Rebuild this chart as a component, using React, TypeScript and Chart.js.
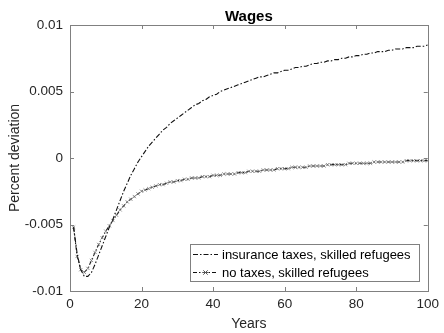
import React, { useEffect, useRef } from "react";
import { Chart, registerables } from "chart.js";

Chart.register(...registerables);

const years: number[] = Array.from({ length: 100 }, (_, i) => i + 1);

const insuranceTaxes: number[] = [
  -0.0052, -0.0072, -0.0084, -0.0089, -0.0089, -0.0086, -0.0080, -0.0073, -0.0066, -0.0059,
  -0.0052, -0.0046, -0.0039, -0.0032, -0.0025, -0.0019, -0.0013, -0.0008, -0.0003, 0.0001,
  0.0005, 0.0009, 0.0012, 0.0015, 0.0018, 0.0021, 0.0023, 0.0026, 0.0028, 0.0030,
  0.0032, 0.0034, 0.0036, 0.0038, 0.0040, 0.0041, 0.0043, 0.0044, 0.0046, 0.0047,
  0.0048, 0.0050, 0.0051, 0.0052, 0.0053, 0.0054, 0.0055, 0.0056, 0.0057, 0.0058,
  0.0059, 0.0060, 0.0061, 0.0061, 0.0062, 0.0063, 0.0064, 0.0064, 0.0065, 0.0066,
  0.0066, 0.0067, 0.0068, 0.0068, 0.0069, 0.0069, 0.0070, 0.0071, 0.0071, 0.0072,
  0.0072, 0.0073, 0.0073, 0.0074, 0.0074, 0.0075, 0.0075, 0.0076, 0.0076, 0.0077,
  0.0077, 0.0078, 0.0078, 0.0079, 0.0079, 0.0080, 0.0080, 0.0080, 0.0081, 0.0081,
  0.0082, 0.0082, 0.0082, 0.0083, 0.0083, 0.0083, 0.0084, 0.0084, 0.0084, 0.0085,
];

const noTaxes: number[] = [
  -0.0052, -0.0074, -0.0084, -0.0086, -0.0083, -0.0077, -0.0071, -0.0065, -0.0060, -0.0055,
  -0.0051, -0.0047, -0.0043, -0.0039, -0.0036, -0.0033, -0.0031, -0.0029, -0.0027, -0.0025,
  -0.0024, -0.0023, -0.0022, -0.0021, -0.0020, -0.0020, -0.0019, -0.0018, -0.0018, -0.0017,
  -0.0017, -0.0016, -0.0016, -0.0015, -0.0015, -0.0015, -0.0014, -0.0014, -0.0014, -0.0013,
  -0.0013, -0.0013, -0.0012, -0.0012, -0.0012, -0.0012, -0.0011, -0.0011, -0.0011, -0.0010,
  -0.0010, -0.0010, -0.0010, -0.0009, -0.0009, -0.0009, -0.0009, -0.0008, -0.0008, -0.0008,
  -0.0008, -0.0007, -0.0007, -0.0007, -0.0007, -0.0007, -0.0006, -0.0006, -0.0006, -0.0006,
  -0.0006, -0.0005, -0.0005, -0.0005, -0.0005, -0.0005, -0.0005, -0.0004, -0.0004, -0.0004,
  -0.0004, -0.0004, -0.0004, -0.0004, -0.0003, -0.0003, -0.0003, -0.0003, -0.0003, -0.0003,
  -0.0003, -0.0003, -0.0003, -0.0002, -0.0002, -0.0002, -0.0002, -0.0002, -0.0002, -0.0002,
];

const xTicks: number[] = [0, 20, 40, 60, 80, 100];
const yTicks: number[] = [-0.01, -0.005, 0, 0.005, 0.01];
const yTickLabels: string[] = ["-0.01", "-0.005", "0", "0.005", "0.01"];
const seriesNames: string[] = ["insurance taxes, skilled refugees", "no taxes, skilled refugees"];
const titleText = "Wages";
const xTitle = "Years";
const yTitle = "Percent deviation";

const FONT = "'Liberation Sans', Arial, Helvetica, sans-serif";
const TEXT = "#262626";
const AXIS = "#808080";
const DASH1 = [5, 2, 1.5, 2];
const DASH2 = [4, 2, 1.5, 2];

const decorPlugin = {
  id: "decor",
  afterDraw(chart: any) {
    const { ctx, chartArea } = chart;
    const { left, right, top, bottom } = chartArea;
    const xs = chart.scales.x;
    const ys = chart.scales.y;
    ctx.save();
    // box
    ctx.strokeStyle = AXIS;
    ctx.lineWidth = 1;
    ctx.setLineDash([]);
    ctx.strokeRect(Math.round(left) + 0.5, Math.round(top) + 0.5, Math.round(right - left), Math.round(bottom - top));
    // inward ticks
    const tl = 4;
    ctx.beginPath();
    xTicks.forEach((v) => {
      const px = Math.round(xs.getPixelForValue(v)) + 0.5;
      ctx.moveTo(px, bottom);
      ctx.lineTo(px, bottom - tl);
      ctx.moveTo(px, top);
      ctx.lineTo(px, top + tl);
    });
    yTicks.forEach((v) => {
      const py = Math.round(ys.getPixelForValue(v)) + 0.5;
      ctx.moveTo(left, py);
      ctx.lineTo(left + tl, py);
      ctx.moveTo(right, py);
      ctx.lineTo(right - tl, py);
    });
    ctx.stroke();

    // titles
    ctx.fillStyle = "#000";
    ctx.font = `bold 15px ${FONT}`;
    ctx.textAlign = "center";
    ctx.textBaseline = "middle";
    ctx.fillText(titleText, (left + right) / 2, 17);
    ctx.fillStyle = TEXT;
    ctx.font = `14px ${FONT}`;
    ctx.fillText(xTitle, (left + right) / 2, 324);
    ctx.save();
    ctx.translate(15, (top + bottom) / 2);
    ctx.rotate(-Math.PI / 2);
    ctx.fillText(yTitle, 0, 0);
    ctx.restore();

    // legend
    const lx = 190, ly = 244, lw = 229, lh = 37;
    ctx.fillStyle = "#fff";
    ctx.fillRect(lx, ly, lw, lh);
    ctx.strokeStyle = AXIS;
    ctx.strokeRect(lx + 0.5, ly + 0.5, lw, lh);
    const rows = [254, 272];
    ctx.font = `13px ${FONT}`;
    ctx.textAlign = "left";
    rows.forEach((ry, i) => {
      ctx.strokeStyle = "#111";
      ctx.setLineDash(i === 0 ? DASH1 : DASH2);
      ctx.beginPath();
      ctx.moveTo(193, ry + 0.5);
      ctx.lineTo(218, ry + 0.5);
      ctx.stroke();
      ctx.setLineDash([]);
      if (i === 1) {
        ctx.strokeStyle = "#555";
        ctx.beginPath();
        const cx = 205.5, cy = ry + 0.5, r = 2.2;
        ctx.moveTo(cx - r, cy - r);
        ctx.lineTo(cx + r, cy + r);
        ctx.moveTo(cx - r, cy + r);
        ctx.lineTo(cx + r, cy - r);
        ctx.moveTo(cx - r - 0.5, cy);
        ctx.lineTo(cx + r + 0.5, cy);
        ctx.stroke();
      }
      ctx.fillStyle = "#000";
      ctx.fillText(seriesNames[i], 222, ry + 1);
    });
    ctx.restore();
  },
};

export default function App() {
  const ref = useRef<HTMLCanvasElement | null>(null);
  useEffect(() => {
    if (!ref.current) return;
    const chart = new Chart(ref.current, {
      type: "line",
      data: {
        datasets: [
          {
            label: seriesNames[0],
            data: years.map((x, i) => ({ x, y: insuranceTaxes[i] })),
            borderColor: "#111",
            borderWidth: 1.1,
            borderDash: DASH1,
            pointRadius: 0,
            tension: 0,
            fill: false,
          },
          {
            label: seriesNames[1],
            data: years.map((x, i) => ({ x, y: noTaxes[i] })),
            borderColor: "#222",
            borderWidth: 1.1,
            borderDash: DASH2,
            pointRadius: 2.3,
            pointStyle: "crossRot",
            pointBorderColor: "#777",
            pointBorderWidth: 0.8,
            pointBackgroundColor: "#777",
            tension: 0,
            fill: false,
          },
        ],
      },
      options: {
        animation: false,
        responsive: false,
        maintainAspectRatio: false,
        events: [],
        layout: { padding: { top: 25, right: 14, left: 0, bottom: 0 } },
        plugins: {
          legend: { display: false },
          title: { display: false },
          tooltip: { enabled: false },
        },
        scales: {
          x: {
            type: "linear",
            min: 0,
            max: 100,
            afterFit: (s: any) => { s.height = 42; },
            afterBuildTicks: (s: any) => { s.ticks = xTicks.map((v) => ({ value: v })); },
            grid: { display: false, drawTicks: false },
            border: { display: false },
            ticks: { padding: 5, color: TEXT, font: { family: FONT, size: 13.5 }, maxRotation: 0 },
          },
          y: {
            type: "linear",
            min: -0.01,
            max: 0.01,
            afterFit: (s: any) => { s.width = 70; },
            afterBuildTicks: (s: any) => { s.ticks = yTicks.map((v) => ({ value: v })); },
            grid: { display: false, drawTicks: false },
            border: { display: false },
            ticks: {
              padding: 7,
              color: TEXT,
              font: { family: FONT, size: 13.5 },
              callback: (v: any) => {
                const idx = yTicks.findIndex((t) => Math.abs(t - Number(v)) < 1e-9);
                return idx >= 0 ? yTickLabels[idx] : "";
              },
            },
          },
        },
      },
      plugins: [decorPlugin],
    });
    return () => chart.destroy();
  }, []);
  return (
    <div style={{ position: "absolute", left: 0, top: 0, width: 444, height: 333, background: "#fff" }}>
      <canvas ref={ref} width={444} height={333} style={{ width: 444, height: 333, display: "block" }} />
    </div>
  );
}
